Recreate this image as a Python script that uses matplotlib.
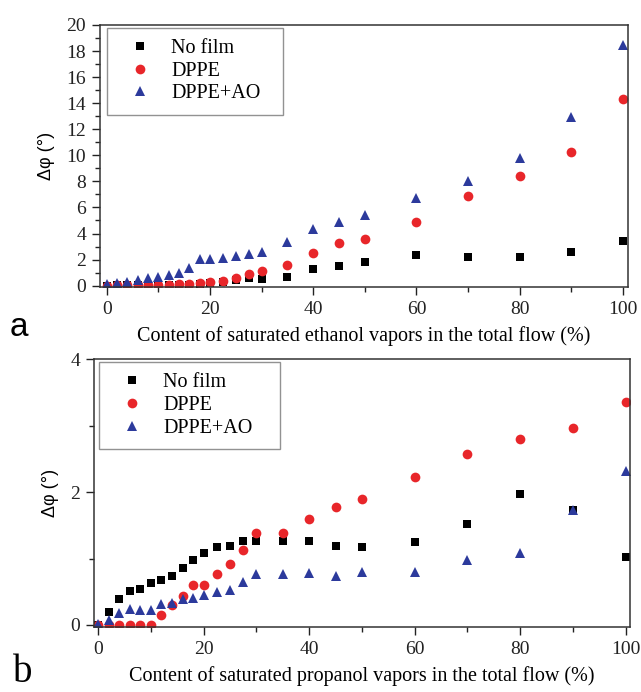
import matplotlib.pyplot as plt
from matplotlib.ticker import MultipleLocator

# x values: content of saturated vapors (%)
x_vals = [0, 2, 4, 6, 8, 10, 12, 14, 16, 18, 20, 22.5, 25, 27.5, 30,
          35, 40, 45, 50, 60, 70, 80, 90, 100]

# panel a: ethanol
eth_nofilm = [0.0, 0.02, 0.03, 0.03, 0.04, 0.05, 0.05, 0.06, 0.08, 0.1, 0.2, 0.3,
              0.43, 0.56, 0.48, 0.64, 1.3, 1.5, 1.85, 2.35, 2.2, 2.2, 2.6, 3.45]
eth_dppe = [0.0, 0.02, 0.08, 0.08, 0.08, 0.08, 0.08, 0.09, 0.1, 0.2, 0.3, 0.38,
            0.6, 0.87, 1.15, 1.6, 2.5, 3.25, 3.55, 4.9, 6.85, 8.4, 10.25, 14.35]
eth_dppe_ao = [0.1, 0.17, 0.3, 0.43, 0.56, 0.7, 0.85, 1.0, 1.35, 2.05, 2.05, 2.15,
               2.25, 2.4, 2.6, 3.35, 4.35, 4.85, 5.4, 6.7, 8.0, 9.8, 12.95, 18.5]

# panel b: propanol
prop_nofilm = [0.0, 0.2, 0.39, 0.51, 0.54, 0.63, 0.67, 0.74, 0.86, 0.97, 1.08, 1.17,
               1.19, 1.26, 1.27, 1.26, 1.26, 1.19, 1.17, 1.25, 1.52, 1.97, 1.73, 1.02]
prop_dppe = [0.0, 0.0, 0.0, 0.0, 0.0, 0.0, 0.15, 0.3, 0.44, 0.6, 0.6, 0.76,
             0.92, 1.13, 1.38, 1.39, 1.59, 1.78, 1.9, 2.22, 2.57, 2.8, 2.96, 3.35]
prop_dppe_ao = [0.01, 0.08, 0.18, 0.24, 0.23, 0.23, 0.31, 0.33, 0.39, 0.4, 0.45, 0.49,
                0.53, 0.65, 0.76, 0.76, 0.78, 0.74, 0.79, 0.79, 0.98, 1.08, 1.73, 2.32]

labels = ["No film", "DPPE", "DPPE+AO"]

plt.rcParams["font.family"] = ["Liberation Serif", "DejaVu Serif"]

RED = "#e8262a"
BLUE = "#2c3a9c"


def draw_panel(ax, y_sets, xlabel, ylim, ymajor, yminor, leg_box):
    styles = [("s", "black", 6.2), ("o", RED, 7.0), ("^", BLUE, 7.8)]
    for ys, lab, (m, c, ms) in zip(y_sets, labels, styles):
        ax.plot(x_vals, ys, linestyle="none", marker=m, color=c,
                markersize=ms, markeredgewidth=0, label=lab)
    ax.set_xlim(-1.3, 101)
    ax.set_ylim(*ylim)
    ax.xaxis.set_major_locator(MultipleLocator(20))
    ax.xaxis.set_minor_locator(MultipleLocator(10))
    ax.yaxis.set_major_locator(MultipleLocator(ymajor))
    ax.yaxis.set_minor_locator(MultipleLocator(yminor))
    ax.tick_params(which="major", direction="out", length=6, width=1,
                   labelsize=14, pad=4, colors="#222222")
    ax.tick_params(which="minor", direction="out", length=3.5, width=1,
                   colors="#222222")
    for s in ax.spines.values():
        s.set_linewidth(1.1)
        s.set_color("#333333")
    ax.set_xlabel(xlabel, fontsize=14.5, labelpad=6)
    ax.set_ylabel("Δφ (°)", fontsize=13, family=["Liberation Sans", "DejaVu Sans"],
                  labelpad=8)
    leg = ax.legend(loc="upper left", fontsize=14.5, frameon=True, fancybox=False,
                    edgecolor="#777777", borderpad=0.55, labelspacing=0.18,
                    handletextpad=0.45, handlelength=2.2, borderaxespad=0,
                    mode="expand", bbox_to_anchor=leg_box)
    leg.get_frame().set_linewidth(1.0)


fig = plt.figure(figsize=(6.41, 6.92), dpi=100)

ax_a = fig.add_axes([0.156, 0.5853, 0.824, 0.3786])
draw_panel(ax_a, [eth_nofilm, eth_dppe, eth_dppe_ao],
           "Content of saturated ethanol vapors in the total flow (%)",
           (-0.1, 20), 2, 1, (0.013, 0.7, 0.333, 0.289))

ax_b = fig.add_axes([0.1466, 0.094, 0.836, 0.387])
draw_panel(ax_b, [prop_nofilm, prop_dppe, prop_dppe_ao],
           "Content of saturated propanol vapors in the total flow (%)",
           (-0.03, 4), 2, 1, (0.009, 0.7, 0.338, 0.289))
ax_b.set_xlim(-0.8, 100.8)

fig.text(0.03, 1 - 327 / 692, "a", fontsize=24, family=["Liberation Sans", "DejaVu Sans"],
         va="center", ha="center")
fig.text(0.035, 1 - 672 / 692, "b", fontsize=28, va="center", ha="center")

fig.savefig("out.png", dpi=100)
